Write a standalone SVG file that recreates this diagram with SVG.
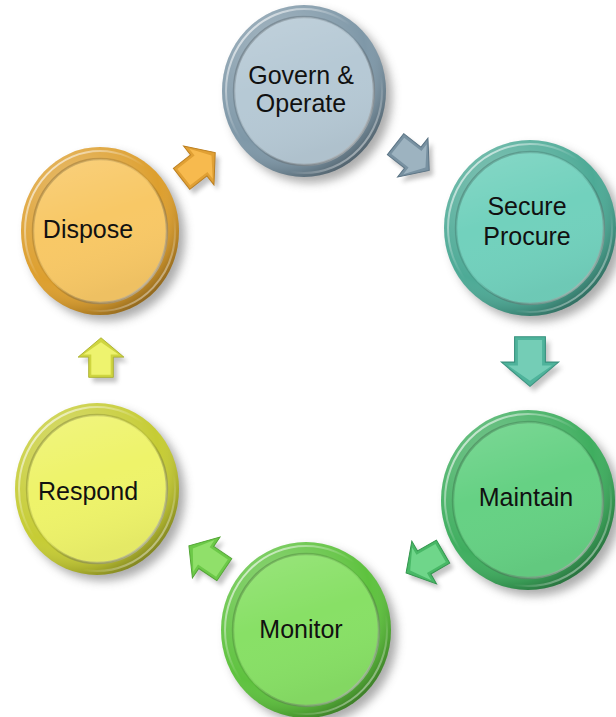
<svg xmlns="http://www.w3.org/2000/svg" xmlns:xlink="http://www.w3.org/1999/xlink" width="616" height="717" viewBox="0 0 616 717">
<style>
.lbl{font-family:"Liberation Sans",Arial,sans-serif;font-size:25px;fill:#111;text-anchor:middle}
.shadow{fill:#5a5a5a;opacity:.5;filter:url(#blur)}
.ashadow{fill:#555;opacity:.35;filter:url(#blur2)}
</style>
<defs>
<filter id="blur" x="-20%" y="-20%" width="140%" height="140%"><feGaussianBlur stdDeviation="5"/></filter>
<filter id="blur2" x="-30%" y="-30%" width="160%" height="160%"><feGaussianBlur stdDeviation="2.5"/></filter>
<radialGradient id="rimShade" cx="0.35" cy="0.3" r="0.75">
<stop offset="0" stop-color="#fff" stop-opacity="0.35"/>
<stop offset="0.7" stop-color="#fff" stop-opacity="0"/>
<stop offset="0.9" stop-color="#000" stop-opacity="0.15"/>
<stop offset="1" stop-color="#000" stop-opacity="0.35"/>
</radialGradient>
<linearGradient id="faceShade" x1="0" y1="0" x2="0.3" y2="1">
<stop offset="0" stop-color="#fff" stop-opacity="0.15"/>
<stop offset="0.5" stop-color="#fff" stop-opacity="0"/>
<stop offset="1" stop-color="#000" stop-opacity="0.04"/>
</linearGradient>
<linearGradient id="ringHi" x1="0" y1="0" x2="1" y2="1">
<stop offset="0" stop-color="#fff" stop-opacity="0.9"/>
<stop offset="0.45" stop-color="#fff" stop-opacity="0"/>
<stop offset="0.7" stop-color="#fff" stop-opacity="0"/>
<stop offset="1" stop-color="#fff" stop-opacity="0.8"/>
</linearGradient>
<linearGradient id="faceEdge" x1="0" y1="0" x2="1" y2="1">
<stop offset="0" stop-color="#000" stop-opacity="0.25"/>
<stop offset="0.5" stop-color="#000" stop-opacity="0.05"/>
<stop offset="1" stop-color="#fff" stop-opacity="0.9"/>
</linearGradient>
<polygon id="arw" points="-22,-14 1,-14 1,-26 23,0 1,26 1,14 -22,14"/>
<polygon id="arwIn" points="-19,-11 4,-11 4,-20 18,0 4,20 4,11 -19,11"/>
</defs>

<g id="connectors">
<g id="c1">
<use xlink:href="#arw" class="ashadow" transform="translate(416,162) rotate(38) scale(0.95)"/>
<g transform="translate(412,157) rotate(38) scale(0.95)"><use xlink:href="#arw" fill="#7891a1" stroke="#5a7384" stroke-width="1"/><use xlink:href="#arwIn" fill="#9db3c0"/></g>
</g>
<g id="c2">
<use xlink:href="#arw" class="ashadow" transform="translate(534,366) rotate(90) scale(1.1)"/>
<g transform="translate(530,361) rotate(90) scale(1.1)"><use xlink:href="#arw" fill="#4eb39b" stroke="#3a927f" stroke-width="1"/><use xlink:href="#arwIn" fill="#74cdb6"/></g>
</g>
<g id="c3">
<use xlink:href="#arw" class="ashadow" transform="translate(429,567) rotate(150) scale(0.95)"/>
<g transform="translate(425,562) rotate(150) scale(0.95)"><use xlink:href="#arw" fill="#48b866" stroke="#31944c" stroke-width="1"/><use xlink:href="#arwIn" fill="#6fd68a"/></g>
</g>
<g id="c4">
<use xlink:href="#arw" class="ashadow" transform="translate(211,563) rotate(-146) scale(0.95)"/>
<g transform="translate(207,558) rotate(-146) scale(0.95)"><use xlink:href="#arw" fill="#6cc948" stroke="#52a534" stroke-width="1"/><use xlink:href="#arwIn" fill="#90e06a"/></g>
</g>
<g id="c5">
<use xlink:href="#arw" class="ashadow" transform="translate(105,363) rotate(-90) scale(0.88)"/>
<g transform="translate(101,358) rotate(-90) scale(0.88)"><use xlink:href="#arw" fill="#cfd540" stroke="#a8ae2c" stroke-width="1"/><use xlink:href="#arwIn" fill="#eef36e"/></g>
</g>
<g id="c6">
<use xlink:href="#arw" class="ashadow" transform="translate(202,171) rotate(-38) scale(0.95)"/>
<g transform="translate(198,166) rotate(-38) scale(0.95)"><use xlink:href="#arw" fill="#e0a034" stroke="#bb7e1e" stroke-width="1"/><use xlink:href="#arwIn" fill="#f7ba4e"/></g>
</g>
</g>

<g id="govern" transform="translate(304,91)">
<ellipse class="shadow" cx="6" cy="6" rx="82" ry="86"/>
<ellipse fill="#7f98a8" rx="82" ry="86"/>
<ellipse fill="url(#rimShade)" rx="82" ry="86"/>
<ellipse fill="none" stroke="url(#ringHi)" stroke-width="2" rx="78" ry="82"/>
<ellipse fill="#b6c9d5" rx="70" ry="74"/>
<ellipse fill="url(#faceShade)" rx="70" ry="74"/>
<ellipse fill="none" stroke="url(#faceEdge)" stroke-width="2.5" rx="70" ry="74"/>
<text class="lbl" x="-3" y="-7">Govern &amp;</text>
<text class="lbl" x="-3" y="21">Operate</text>
</g>

<g id="secure" transform="translate(530,228)">
<ellipse class="shadow" cx="6" cy="6" rx="86" ry="88"/>
<ellipse fill="#4daa96" rx="86" ry="88"/>
<ellipse fill="url(#rimShade)" rx="86" ry="88"/>
<ellipse fill="none" stroke="url(#ringHi)" stroke-width="2" rx="82" ry="84"/>
<ellipse fill="#72d1bd" rx="74" ry="76"/>
<ellipse fill="url(#faceShade)" rx="74" ry="76"/>
<ellipse fill="none" stroke="url(#faceEdge)" stroke-width="2.5" rx="74" ry="76"/>
<text class="lbl" x="-3" y="-13">Secure</text>
<text class="lbl" x="-3" y="17">Procure</text>
</g>

<g id="maintain" transform="translate(528,500)">
<ellipse class="shadow" cx="6" cy="6" rx="87" ry="90"/>
<ellipse fill="#3fae5f" rx="87" ry="90"/>
<ellipse fill="url(#rimShade)" rx="87" ry="90"/>
<ellipse fill="none" stroke="url(#ringHi)" stroke-width="2" rx="83" ry="86"/>
<ellipse fill="#66d184" rx="75" ry="78"/>
<ellipse fill="url(#faceShade)" rx="75" ry="78"/>
<ellipse fill="none" stroke="url(#faceEdge)" stroke-width="2.5" rx="75" ry="78"/>
<text class="lbl" x="-2" y="6">Maintain</text>
</g>

<g id="monitor" transform="translate(306,630)">
<ellipse class="shadow" cx="6" cy="6" rx="85" ry="88"/>
<ellipse fill="#5ec23e" rx="85" ry="88"/>
<ellipse fill="url(#rimShade)" rx="85" ry="88"/>
<ellipse fill="none" stroke="url(#ringHi)" stroke-width="2" rx="81" ry="84"/>
<ellipse fill="#88e066" rx="73" ry="76"/>
<ellipse fill="url(#faceShade)" rx="73" ry="76"/>
<ellipse fill="none" stroke="url(#faceEdge)" stroke-width="2.5" rx="73" ry="76"/>
<text class="lbl" x="-5" y="8">Monitor</text>
</g>

<g id="respond" transform="translate(97,489)">
<ellipse class="shadow" cx="6" cy="6" rx="82" ry="86"/>
<ellipse fill="#c6cc34" rx="82" ry="86"/>
<ellipse fill="url(#rimShade)" rx="82" ry="86"/>
<ellipse fill="none" stroke="url(#ringHi)" stroke-width="2" rx="78" ry="82"/>
<ellipse fill="#eef36a" rx="70" ry="74"/>
<ellipse fill="url(#faceShade)" rx="70" ry="74"/>
<ellipse fill="none" stroke="url(#faceEdge)" stroke-width="2.5" rx="70" ry="74"/>
<text class="lbl" x="-9" y="11">Respond</text>
</g>

<g id="dispose" transform="translate(100,231)">
<ellipse class="shadow" cx="6" cy="6" rx="79" ry="84"/>
<ellipse fill="#dd9f2e" rx="79" ry="84"/>
<ellipse fill="url(#rimShade)" rx="79" ry="84"/>
<ellipse fill="none" stroke="url(#ringHi)" stroke-width="2" rx="75" ry="80"/>
<ellipse fill="#f8c866" rx="67" ry="72"/>
<ellipse fill="url(#faceShade)" rx="67" ry="72"/>
<ellipse fill="none" stroke="url(#faceEdge)" stroke-width="2.5" rx="67" ry="72"/>
<text class="lbl" x="-12" y="7">Dispose</text>
</g>
</svg>
